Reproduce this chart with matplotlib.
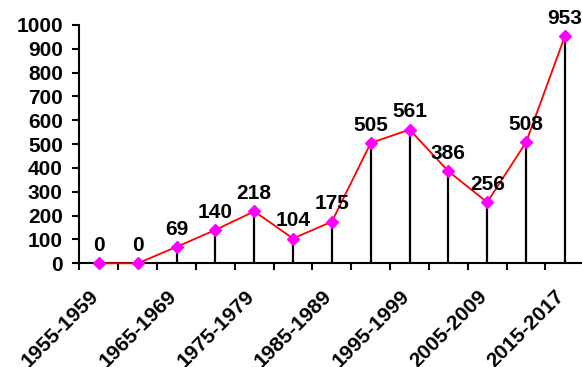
import matplotlib
matplotlib.use("Agg")
import matplotlib.pyplot as plt
import matplotlib.transforms as mtransforms
import numpy as np

periods = ["1955-1959", "1960-1964", "1965-1969", "1970-1974", "1975-1979",
           "1980-1984", "1985-1989", "1990-1994", "1995-1999", "2000-2004",
           "2005-2009", "2010-2014", "2015-2017"]
counts = [0, 0, 69, 140, 218, 104, 175, 505, 561, 386, 256, 508, 953]
yticks = [0, 100, 200, 300, 400, 500, 600, 700, 800, 900, 1000]

plt.rcParams["font.family"] = ["Liberation Sans", "DejaVu Sans"]
plt.rcParams["font.weight"] = "bold"
FS = 15

fig = plt.figure(figsize=(5.82, 3.67), dpi=100)
left_px, right_px = 79.5, 584.3
top_px, bot_px = 25.0, 263.3
W, H = 582, 367
ax = fig.add_axes([left_px / W, 1 - bot_px / H, (right_px - left_px) / W, (bot_px - top_px) / H])

x = np.arange(len(periods))

# drop lines from each point to the axis
ax.vlines(x, 0, counts, colors="black", linewidth=1.6, zorder=2)
# connecting line with diamond markers
ax.plot(x, counts, color="#ff0000", linewidth=1.3, zorder=3,
        marker="D", markersize=6.5, markerfacecolor="#ff00ff",
        markeredgecolor="#ff00ff", clip_on=False)

for xi, v in zip(x, counts):
    ax.annotate(str(v), (xi, v), xytext=(0, 6), textcoords="offset points",
                ha="center", va="bottom", fontsize=FS, fontweight="bold")

ax.set_xlim(-0.5, len(periods) - 0.5)
ax.set_ylim(0, 1000)
ax.set_yticks(yticks)
ax.set_yticklabels([str(t) for t in yticks], fontsize=FS, fontweight="bold")

label_pos = x[::2]
ax.set_xticks(label_pos)
ax.set_xticks(np.arange(-0.5, len(periods), 1.0), minor=True)
ax.tick_params(axis="x", which="major", length=0, pad=17)
ax.tick_params(axis="x", which="minor", length=5, width=1.5, direction="out")
ax.tick_params(axis="y", length=5, width=1.5, direction="out", pad=7)
ax.set_xticklabels([periods[i] for i in label_pos], rotation=45, ha="right",
                   rotation_mode="anchor", fontsize=FS, fontweight="bold")
shift = mtransforms.ScaledTranslation(-10 / 100, 0, fig.dpi_scale_trans)
for lbl in ax.get_xticklabels():
    lbl.set_transform(lbl.get_transform() + shift)

for s in ["top", "right"]:
    ax.spines[s].set_visible(False)
for s in ["left", "bottom"]:
    ax.spines[s].set_linewidth(1.5)
ax.spines["bottom"].set_bounds(-0.5, len(periods) - 0.5)

fig.savefig("out.png", dpi=100)
